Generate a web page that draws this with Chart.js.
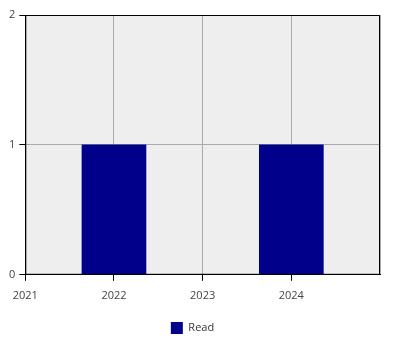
<!DOCTYPE html>
<html>
<head>
<meta charset="utf-8">
<script src="https://cdn.jsdelivr.net/npm/chart.js@4"></script>
<style>
  html, body { margin: 0; padding: 0; background: #fff; }
  #wrap { width: 400px; height: 350px; }
</style>
</head>
<body>
<div id="wrap"><canvas id="chart"></canvas></div>
<script>
const years = [2022, 2024];
const readCounts = [1, 1];
const yTicks = [0, 1, 2];

const plotBackground = {
  id: 'plotBackground',
  beforeDraw(chart) {
    const { ctx, chartArea: a } = chart;
    ctx.save();
    ctx.fillStyle = '#eeeeee';
    ctx.fillRect(a.left, a.top, a.right - a.left, a.bottom - a.top);
    ctx.restore();
  },
  afterDatasetsDraw(chart) {
    const { ctx, chartArea: a } = chart;
    ctx.save();
    ctx.strokeStyle = '#000';
    ctx.lineWidth = 1;
    ctx.strokeRect(a.left + 0.5, a.top + 0.5, a.right - a.left - 1, a.bottom - a.top - 1);
    ctx.restore();
  },
};

Chart.defaults.font.family = '"Open Sans", sans-serif';
Chart.defaults.font.size = 11;
Chart.defaults.color = '#444';

new Chart(document.getElementById('chart'), {
  type: 'bar',
  data: {
    datasets: [{
      label: 'Read',
      data: years.map((y, i) => ({ x: y, y: readCounts[i] })),
      backgroundColor: '#00008b',
      borderWidth: 0,
      barThickness: 64,
    }],
  },
  options: {
    animation: false,
    responsive: true,
    maintainAspectRatio: false,
    layout: { padding: { top: 15, right: 20, left: 5, bottom: 6 } },
    scales: {
      x: {
        type: 'linear',
        min: 2021,
        max: 2025,
        offset: false,
        grid: {
          offset: false,
          color: '#aaaaaa',
          tickColor: (c) => (c.tick && c.tick.value === 2025 ? 'rgba(0,0,0,0)' : '#000'),
          tickLength: 6,
        },
        border: { color: '#000' },
        ticks: {
          stepSize: 1,
          padding: 8,
          callback: (v) => (v < 2025 ? String(v) : ''),
        },
      },
      y: {
        min: 0,
        max: yTicks[yTicks.length - 1],
        grid: { color: '#aaaaaa', tickColor: '#000', tickLength: 6 },
        border: { color: '#000' },
        ticks: {
          stepSize: 1,
          padding: 4,
          callback: (v) => (yTicks.includes(v) ? String(v) : ''),
        },
      },
    },
    plugins: {
      legend: {
        position: 'bottom',
        labels: { boxWidth: 12, boxHeight: 12, padding: 12, color: '#333' },
      },
      tooltip: { enabled: false },
    },
  },
  plugins: [plotBackground],
});
</script>
</body>
</html>
